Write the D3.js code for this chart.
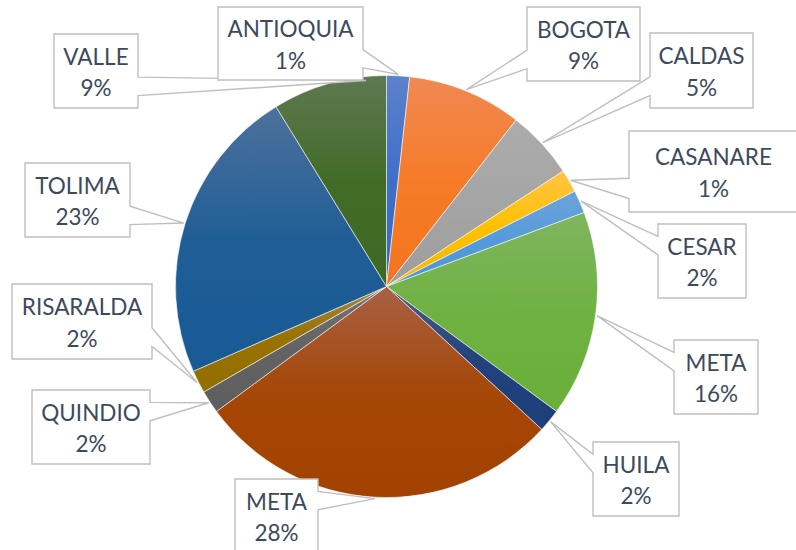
<!DOCTYPE html>
<html>
<head>
<meta charset="utf-8">
<script src="https://cdn.jsdelivr.net/npm/d3@7"></script>
<style>
  html, body { margin: 0; padding: 0; background: #ffffff; }
  svg { display: block; }
</style>
</head>
<body>
<svg id="chart" width="796" height="550"></svg>
<script>
// ---- data ----
const regions = ["ANTIOQUIA", "BOGOTA", "CALDAS", "CASANARE", "CESAR", "META", "HUILA", "META", "QUINDIO", "RISARALDA", "TOLIMA", "VALLE"];
const counts = [1, 5, 3, 1, 1, 9, 1, 16, 1, 1, 13, 5];
const pctLabels = ["1%", "9%", "5%", "1%", "2%", "16%", "2%", "28%", "2%", "2%", "23%", "9%"];
const baseColors = ["#4472C4", "#ED7D31", "#A5A5A5", "#FFC000", "#5B9BD5", "#70AD47",
                    "#264478", "#9E480E", "#636363", "#997300", "#255E91", "#43682B"];

// ---- layout (callout boxes: x0, y0, x1, y1; tipFrac = where along the slice the wedge points) ----
const calloutBoxes = [
  {x0: 218, y0: 7,   x1: 363, y1: 80,  tipFrac: 0.5},
  {x0: 527, y0: 7,   x1: 640, y1: 81,  tipFrac: 0.5},
  {x0: 650, y0: 33,  x1: 753, y1: 108, tipFrac: 0.5},
  {x0: 629, y0: 131, x1: 798, y1: 212, tipFrac: 0.5},
  {x0: 658, y0: 224, x1: 746, y1: 298, tipFrac: 0.5},
  {x0: 674, y0: 340, x1: 758, y1: 414, tipFrac: 0.5},
  {x0: 593, y0: 442, x1: 679, y1: 516, tipFrac: 0.5},
  {x0: 235, y0: 479, x1: 318, y1: 553, tipFrac: 0.5},
  {x0: 32,  y0: 390, x1: 150, y1: 464, tipFrac: 0.5},
  {x0: 12,  y0: 284, x1: 152, y1: 359, tipFrac: 0.5},
  {x0: 25,  y0: 163, x1: 130, y1: 237, tipFrac: 0.5},
  {x0: 54,  y0: 34,  x1: 138, y1: 108, tipFrac: 0.82}
];

const cx = 386.5, cy = 286.5, R = 211;
const svg = d3.select("#chart");
const defs = svg.append("defs");

// colour helpers (Office-like gradient: tint / shade in linear RGB)
const toLin = v => { v /= 255; return v <= 0.04045 ? v / 12.92 : Math.pow((v + 0.055) / 1.055, 2.4); };
const fromLin = v => { v = Math.max(0, Math.min(1, v)); return 255 * (v <= 0.0031308 ? v * 12.92 : 1.055 * Math.pow(v, 1 / 2.4) - 0.055); };
function tint(c, t) { const k = d3.rgb(c); return d3.rgb(fromLin(toLin(k.r) * t + (1 - t)), fromLin(toLin(k.g) * t + (1 - t)), fromLin(toLin(k.b) * t + (1 - t))); }
function shade(c, s) { const k = d3.rgb(c); return d3.rgb(fromLin(toLin(k.r) * s), fromLin(toLin(k.g) * s), fromLin(toLin(k.b) * s)); }
function satMod(c, m) { const h = d3.hsl(c); h.s = Math.min(1, h.s * m); return h; }

baseColors.forEach((c, i) => {
  const g = defs.append("linearGradient").attr("id", "g" + i)
    .attr("x1", 0).attr("y1", 0).attr("x2", 0).attr("y2", 1);
  g.append("stop").attr("offset", "0%").attr("stop-color", satMod(tint(c, 0.94), 1.03).formatHex());
  g.append("stop").attr("offset", "50%").attr("stop-color", satMod(c, 1.1).formatHex());
  g.append("stop").attr("offset", "100%").attr("stop-color", satMod(shade(c, 0.9), 1.2).formatHex());
});

const pie = d3.pie().sort(null).value(d => d)(counts);
const arc = d3.arc().innerRadius(0).outerRadius(R);

const gPie = svg.append("g").attr("transform", `translate(${cx},${cy})`);
gPie.selectAll("path.slice").data(pie).join("path")
  .attr("class", "slice")
  .attr("d", arc)
  .attr("fill", (d, i) => `url(#g${i})`)
  .attr("stroke", "#ffffff")
  .attr("stroke-width", 0.7)
  .attr("stroke-opacity", 0.8);

// callouts
function calloutPath(b, tx, ty) {
  const h = b.y1 - b.y0;
  const below = ty > (b.y0 + b.y1) / 2;
  const a = b.y0 + h * (below ? 7 : 2) / 12;
  const c = b.y0 + h * (below ? 10 : 5) / 12;
  if (tx > b.x1) {
    return `M${b.x0},${b.y0}L${b.x1},${b.y0}L${b.x1},${a}L${tx},${ty}L${b.x1},${c}L${b.x1},${b.y1}L${b.x0},${b.y1}Z`;
  }
  return `M${b.x0},${b.y0}L${b.x1},${b.y0}L${b.x1},${b.y1}L${b.x0},${b.y1}L${b.x0},${c}L${tx},${ty}L${b.x0},${a}Z`;
}

const labelsG = svg.append("g");
const order = [11, 0, 1, 2, 3, 4, 5, 6, 7, 8, 9, 10];
order.forEach(i => {
  const d = pie[i];
  const b = calloutBoxes[i];
  const ang = d.startAngle + (d.endAngle - d.startAngle) * b.tipFrac;
  const rr = b.tipFrac === 0.5 ? R + 1.5 : R - 4;
  const tx = cx + rr * Math.sin(ang), ty = cy - rr * Math.cos(ang);
  const g = labelsG.append("g");
  g.append("path").attr("d", calloutPath(b, tx, ty))
    .attr("fill", "#ffffff").attr("stroke", "#bfbfbf").attr("stroke-width", 1.4)
    .attr("stroke-linejoin", "miter");
  const mx = (b.x0 + b.x1) / 2, my = (b.y0 + b.y1) / 2;
  g.append("text").attr("x", mx).attr("y", my - 6.5).text(regions[i]);
  g.append("text").attr("x", mx).attr("y", my + 25).text(pctLabels[i]);
});
labelsG.selectAll("text")
  .attr("text-anchor", "middle")
  .attr("font-family", "Lato, 'Open Sans', sans-serif")
  .attr("font-size", 22.5)
  .attr("fill", "#3e4a5c");
</script>
</body>
</html>
